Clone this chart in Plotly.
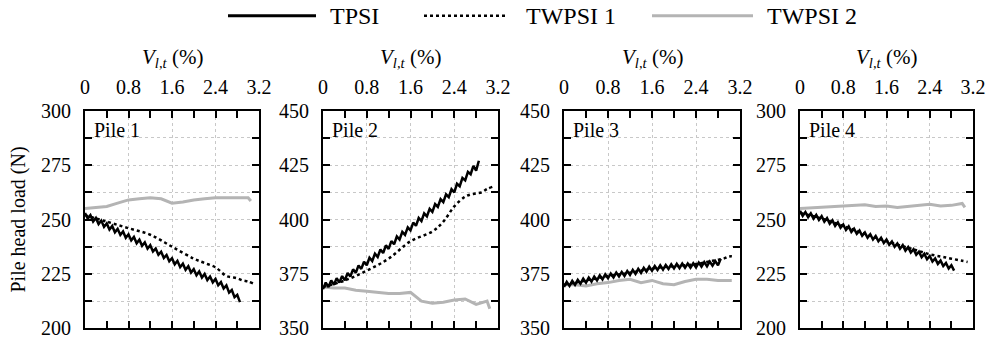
import plotly.graph_objects as go

# ---------------- data ----------------
piles = ["Pile 1", "Pile 2", "Pile 3", "Pile 4"]
y_ranges = [[200, 300], [350, 450], [350, 450], [200, 300]]

# TPSI (jagged, cyclic) - x every 0.05 %
tpsi_x = [0.00, 0.05, 0.10, 0.15, 0.20, 0.25, 0.30, 0.35, 0.40, 0.45, 0.50, 0.55, 0.60, 0.65, 0.70,
          0.75, 0.80, 0.85, 0.90, 0.95, 1.00, 1.05, 1.10, 1.15, 1.20, 1.25, 1.30, 1.35, 1.40, 1.45,
          1.50, 1.55, 1.60, 1.65, 1.70, 1.75, 1.80, 1.85, 1.90, 1.95, 2.00, 2.05, 2.10, 2.15, 2.20,
          2.25, 2.30, 2.35, 2.40, 2.45, 2.50, 2.55, 2.60, 2.65, 2.70, 2.75, 2.80, 2.85]
tpsi_p1 = [253, 250.4, 252, 249.1, 250.7, 247.9, 249.5, 246.6, 248.2, 245.4, 247, 244.1, 245.7, 242.9, 244.5,
           241.6, 243.2, 240.4, 242, 239.1, 240.7, 237.9, 239.5, 236.6, 238.2, 235.3, 236.7, 233.8, 235.2, 232.3,
           233.7, 230.8, 232.2, 229.4, 231, 228.1, 229.7, 226.9, 228.5, 225.6, 227.2, 224.4, 226.1, 223.3, 225,
           222.2, 223.8, 221.1, 222.7, 219.8, 221.2, 218.3, 219.7, 216.4, 217.6, 214.3, 215.4, 212]
tpsi_p2 = [368, 371, 369, 372, 370, 373, 371, 374, 372, 375.4, 373.8, 377.1, 375.5, 378.9, 377.3,
           380.6, 379, 382.4, 380.9, 384.3, 382.8, 386.2, 384.6, 388.1, 386.5, 390.1, 388.6, 392.2, 390.8, 394.3,
           392.9, 396.4, 395, 398.6, 397.1, 400.7, 399.3, 402.8, 401.4, 404.9, 403.5, 407.1, 405.8, 409.4, 408,
           411.6, 410.3, 413.9, 412.5, 416.4, 415.3, 419.1, 418, 421.9, 420.8, 424.6, 422.5, 427]
tpsi_p3 = [369, 371.3, 369.5, 371.8, 370, 372.3, 370.5, 372.8, 371, 373.3, 371.5, 373.8, 372, 374.3, 372.5,
           374.8, 373, 375.2, 373.4, 375.6, 373.8, 375.9, 374.1, 376.3, 374.5, 376.8, 375, 377.3, 375.5, 377.8,
           376, 378.3, 376.5, 378.6, 376.8, 378.9, 377, 379.1, 377.3, 379.4, 377.5, 379.6, 377.6, 379.7, 377.8,
           379.8, 377.9, 379.9, 378, 380.2, 378.3, 380.4, 378.5, 380.7, 378.8, 380.9, 379, 382]
tpsi_p4 = [254, 251.7, 253.4, 251.1, 252.8, 250.4, 252.1, 249.8, 251.5, 249, 250.6, 248.1, 249.6, 247.1, 248.7,
           246.2, 247.7, 245.2, 246.8, 244.3, 245.8, 243.4, 244.9, 242.5, 244, 241.6, 243.2, 240.8, 242.4, 240,
           241.6, 239.2, 240.8, 238.4, 239.9, 237.5, 239, 236.6, 238.2, 235.7, 237.3, 234.8, 236.3, 233.8, 235.2,
           232.7, 234.2, 231.7, 233.2, 230.7, 232.1, 229.6, 231.1, 228.6, 230, 227.5, 229, 226.5]

# TWPSI 1 (dotted)
tw1_x = [0.0, 0.4, 0.8, 1.2, 1.6, 2.0, 2.2, 2.4, 2.6, 2.7, 2.8, 2.9, 3.0, 3.1]
tw1_p1 = [252, 249, 246, 243, 237.5, 232, 230, 228, 224, 223.5, 223, 222, 221.5, 220.5]
tw1_p2 = [369, 372, 376.5, 382, 390, 394.5, 399, 406, 410.5, 411.5, 412, 412.5, 414, 415]
tw1_p3 = [370, 372, 374, 375.5, 377.5, 378.5, 379, 379.5, 380.5, 381, 381.5, 382, 383, 383]
tw1_p4 = [253, 250.5, 247, 243.5, 240, 237, 235.5, 234, 233, 232.5, 232, 231.5, 231, 230.5]

# TWPSI 2 (grey)
tw2_x = [0.0, 0.2, 0.4, 0.6, 0.8, 1.0, 1.2, 1.4, 1.6, 1.8, 2.0, 2.2, 2.4, 2.6, 2.8, 3.0, 3.05]
tw2_p1 = [255, 255.5, 256, 257.5, 259, 259.5, 260, 259.5, 257.5, 258, 259, 259.5, 260, 260, 260, 260, 258.5]
tw2_p2 = [369, 368.5, 368.5, 367.5, 367, 366.5, 366, 366, 366.5, 362.5, 361.5, 362, 363, 363.5, 361, 362.5, 359]
tw2_p3 = [370, 370, 369.5, 370.5, 371, 372, 372.5, 371, 372, 370.5, 370, 371.5, 372.5, 372.5, 372, 372, 372]
tw2_p4 = [255, 255.3, 255.6, 256, 256.2, 256.6, 256.8, 256, 256.2, 255.5, 256, 256.3, 257, 256.2, 256.5, 257.4, 255.6]

tpsi = [tpsi_p1, tpsi_p2, tpsi_p3, tpsi_p4]
tw1 = [tw1_p1, tw1_p2, tw1_p3, tw1_p4]
tw2 = [tw2_p1, tw2_p2, tw2_p3, tw2_p4]

x_ticks = [0, 0.8, 1.6, 2.4, 3.2]
x_ticklabels = ["0", "0.8", "1.6", "2.4", "3.2"]
legend_names = ["TPSI", "TWPSI 1", "TWPSI 2"]

# ---------------- layout ----------------
W, H = 989, 339
FONT = "Liberation Serif, Times New Roman, serif"
panel_px = [(85, 259), (323, 498), (564, 740), (800, 973)]
y_dom = [1 - 328.3 / H, 1 - 110.7 / H]

fig = go.Figure()
GREY = "#b4b4b4"
GRID = "#c8c8c8"

for i in range(4):
    xa = "x" if i == 0 else f"x{i+1}"
    ya = "y" if i == 0 else f"y{i+1}"
    fig.add_trace(go.Scatter(x=tw2_x, y=tw2[i], xaxis=xa, yaxis=ya, mode="lines",
                             line=dict(color=GREY, width=3), name=legend_names[2], showlegend=False))
    fig.add_trace(go.Scatter(x=tw1_x, y=tw1[i], xaxis=xa, yaxis=ya, mode="lines",
                             line=dict(color="black", width=2.5, dash="dot", shape="spline"),
                             name=legend_names[1], showlegend=False))
    fig.add_trace(go.Scatter(x=tpsi_x, y=tpsi[i], xaxis=xa, yaxis=ya, mode="lines",
                             line=dict(color="black", width=2.5), name=legend_names[0], showlegend=False))

axis_common = dict(showline=True, linewidth=2, linecolor="black", mirror="allticks",
                   ticks="inside", ticklen=7, tickwidth=2, tickcolor="black", automargin=False,
                   ticklabeloverflow="allow",
                   tickfont=dict(family=FONT, size=20, color="black"),
                   showgrid=True, gridcolor=GRID, griddash="dot", gridwidth=1, zeroline=False)

layout = dict(width=W, height=H, margin=dict(l=0, r=0, t=0, b=0),
              paper_bgcolor="white", plot_bgcolor="white", showlegend=False,
              font=dict(family=FONT, size=20, color="black"))

annotations = []
for i in range(4):
    sfx = "" if i == 0 else str(i + 1)
    x0, x1 = panel_px[i]
    layout["xaxis" + sfx] = dict(axis_common, domain=[x0 / W, x1 / W], range=[0, 3.2], side="top",
                                 tickvals=x_ticks, ticktext=x_ticklabels, ticklabelstandoff=7,
                                 anchor="y" + sfx,
                                 minor=dict(dtick=0.4, tick0=0, ticks="inside", ticklen=7, tickwidth=2,
                                            tickcolor="black", showgrid=False))
    layout["yaxis" + sfx] = dict(axis_common, domain=y_dom, range=y_ranges[i], dtick=25, tick0=0,
                                 anchor="x" + sfx, ticklabelstandoff=8,
                                 minor=dict(dtick=12.5, tick0=0, ticks="inside", ticklen=7, tickwidth=2,
                                            tickcolor="black", showgrid=True, gridcolor=GRID,
                                            griddash="dot", gridwidth=1))
    annotations.append(dict(text="<i>V</i><sub><i>l,t</i></sub> (%)", xref="paper", yref="paper",
                            x=(x0 + x1) / 2 / W, y=1 - 58 / H, showarrow=False,
                            font=dict(family=FONT, size=21, color="black"),
                            xanchor="center", yanchor="middle"))
    annotations.append(dict(text=piles[i], xref=f"x{sfx} domain", yref=f"y{sfx} domain",
                            x=0.04, y=0.995, yshift=-5, showarrow=False, xanchor="left", yanchor="top",
                            font=dict(family=FONT, size=20, color="black")))

annotations.append(dict(text="Pile head load (N)", xref="paper", yref="paper", x=18 / W,
                        y=(y_dom[0] + y_dom[1]) / 2, textangle=-90, showarrow=False,
                        xanchor="center", yanchor="middle",
                        font=dict(family=FONT, size=20, color="black")))

# legend (drawn as samples + labels)
leg_y = 1 - 15.7 / H
leg_items = [(228, 316, "black", "solid", 3, legend_names[0], 328),
             (424, 506, "black", "dot", 2.5, legend_names[1], 524),
             (652, 753, GREY, "solid", 3, legend_names[2], 765)]
shapes = []
for (a, b, c, d, w, name, tx) in leg_items:
    shapes.append(dict(type="line", xref="paper", yref="paper", x0=a / W, x1=b / W, y0=leg_y, y1=leg_y,
                       line=dict(color=c, width=w, dash=d)))
    annotations.append(dict(text=name, xref="paper", yref="paper", x=tx / W, y=leg_y, showarrow=False,
                            xanchor="left", yanchor="middle", font=dict(family=FONT, size=24, color="black")))

layout["annotations"] = annotations
layout["shapes"] = shapes
fig.update_layout(**layout)
fig.write_html("out.html")
